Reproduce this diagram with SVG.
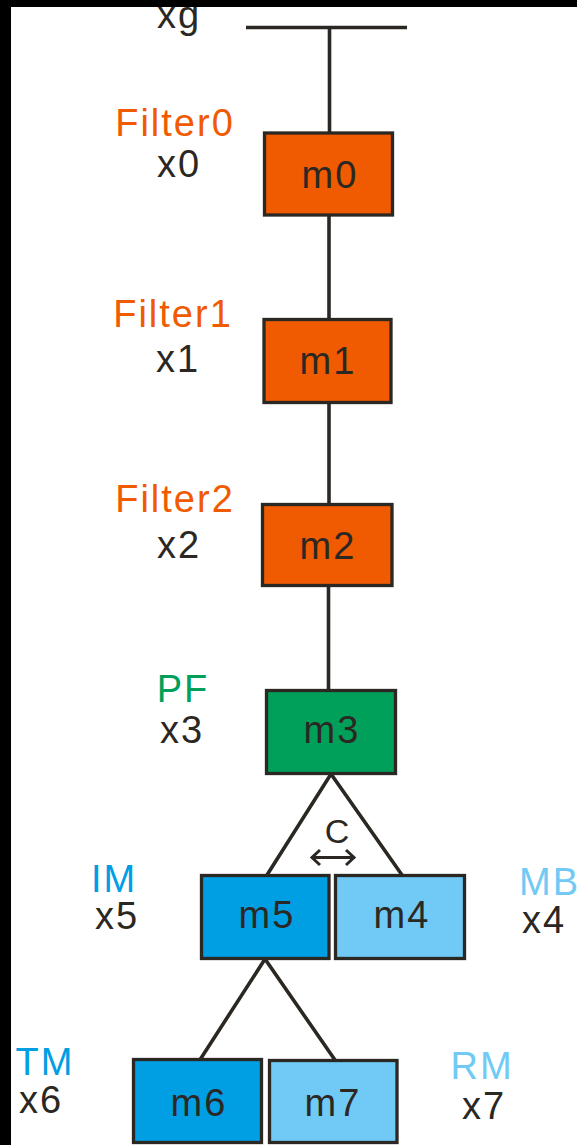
<svg xmlns="http://www.w3.org/2000/svg" width="577" height="1145" viewBox="0 0 577 1145">
<style>
.box{stroke:#2b2723;stroke-width:3.3}
.or{fill:#f05a00}.gr{fill:#00a05a}.bl{fill:#009ee3}.lb{fill:#70caf5}
.t{font-family:"Liberation Sans",Arial,sans-serif;font-size:38px;letter-spacing:2px;text-anchor:middle}
.dk{fill:#2b2723}
.c{stroke:#2b2723;stroke-width:3.6;fill:none}
</style>
<rect x="0" y="0" width="577" height="1145" fill="#ffffff"/>
<rect x="0" y="0" width="577" height="7" fill="#000000"/>
<rect x="0" y="0" width="11" height="1145" fill="#000000"/>
<g id="connectors" class="c">
<line x1="246" y1="27.5" x2="407" y2="27.5"/>
<line x1="329.5" y1="27.5" x2="329.5" y2="133"/>
<line x1="329" y1="215" x2="329" y2="320"/>
<line x1="329" y1="402" x2="329" y2="505"/>
<line x1="328.5" y1="586" x2="328.5" y2="691"/>
<polyline points="267,875 331,774 402,875"/>
<polyline points="200.5,1059 265,959 335,1060"/>
<line x1="312" y1="857.5" x2="354" y2="857.5" style="stroke-width:3"/>
<polyline points="320,850 312,857.5 320,865" style="stroke-width:3"/>
<polyline points="346,850 354,857.5 346,865" style="stroke-width:3"/>
</g>
<g id="xg"><text class="t dk" x="179" y="28">xg</text></g>
<g id="m0">
<rect class="box or" x="264.5" y="133" width="128" height="82"/>
<text class="t dk" x="330" y="188">m0</text>
<text class="t" fill="#f05a00" x="175" y="136">Filter0</text>
<text class="t dk" x="179" y="177">x0</text>
</g>
<g id="m1">
<rect class="box or" x="264" y="319.5" width="127" height="83"/>
<text class="t dk" x="328" y="374">m1</text>
<text class="t" fill="#f05a00" x="173" y="327">Filter1</text>
<text class="t dk" x="178" y="372">x1</text>
</g>
<g id="m2">
<rect class="box or" x="262.5" y="504.5" width="129.5" height="81"/>
<text class="t dk" x="328" y="559">m2</text>
<text class="t" fill="#f05a00" x="175" y="512">Filter2</text>
<text class="t dk" x="179" y="558">x2</text>
</g>
<g id="m3">
<rect class="box gr" x="266.5" y="690.5" width="129" height="83"/>
<text class="t dk" x="332" y="743">m3</text>
<text class="t" fill="#00a05a" x="183" y="702">PF</text>
<text class="t dk" x="182" y="743">x3</text>
</g>
<g id="m5">
<rect class="box bl" x="201.5" y="875.5" width="127.5" height="83"/>
<text class="t dk" x="267" y="928">m5</text>
<text class="t" fill="#009ee3" x="114" y="892">IM</text>
<text class="t dk" x="117" y="929">x5</text>
</g>
<g id="m4">
<rect class="box lb" x="335.5" y="875.5" width="129" height="83"/>
<text class="t dk" x="402" y="928">m4</text>
<text class="t" fill="#70caf5" x="519" y="895" style="text-anchor:start">MB</text>
<text class="t dk" x="544" y="933">x4</text>
</g>
<g id="m6">
<rect class="box bl" x="133.5" y="1059.5" width="128" height="83"/>
<text class="t dk" x="199" y="1116">m6</text>
<text class="t" fill="#009ee3" x="45" y="1075">TM</text>
<text class="t dk" x="41" y="1113">x6</text>
</g>
<g id="m7">
<rect class="box lb" x="269.5" y="1060.5" width="127.5" height="82"/>
<text class="t dk" x="333" y="1116">m7</text>
<text class="t" fill="#70caf5" x="482" y="1079">RM</text>
<text class="t dk" x="484" y="1119">x7</text>
</g>
<g id="C"><text class="t dk" x="337" y="843" style="font-size:34px;letter-spacing:0">C</text></g>
</svg>
